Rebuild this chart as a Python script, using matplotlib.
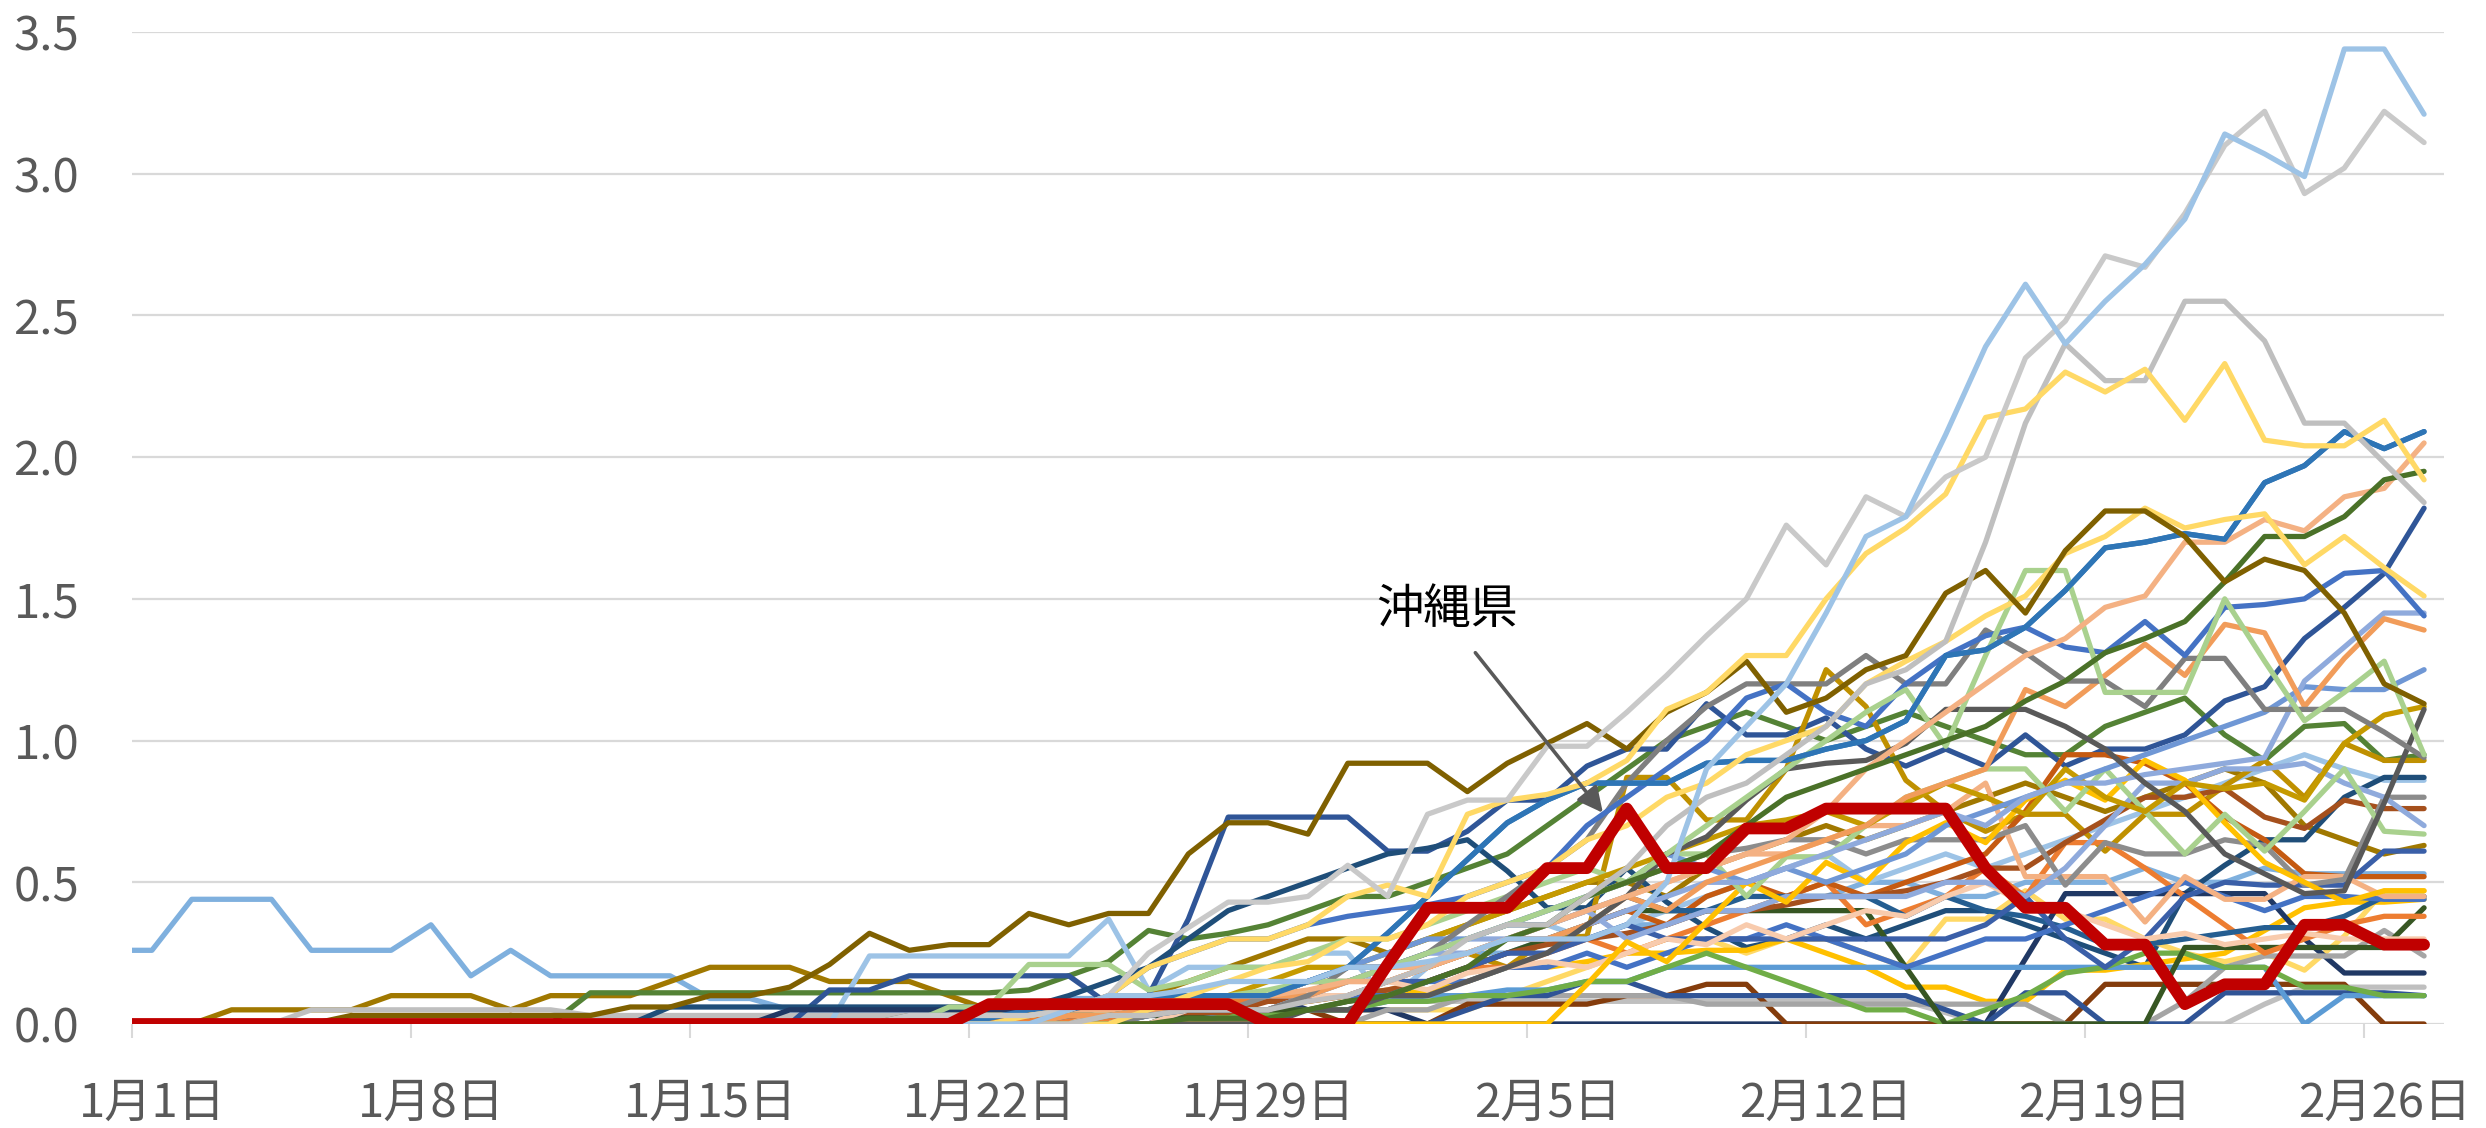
import matplotlib
matplotlib.use("Agg")
import matplotlib.pyplot as plt
import numpy as np

plt.rcParams['font.family'] = ['Noto Sans CJK JP', 'DejaVu Sans']

# day index: -1 = 12/31, 0 = 1/1 ... 57 = 2/27
days = list(range(-1, 58))
tick_days = [0, 7, 14, 21, 28, 35, 42, 49, 56]
tick_labels = ['1月1日', '1月8日', '1月15日', '1月22日', '1月29日',
               '2月5日', '2月12日', '2月19日', '2月26日']

# one list per prefecture line (59 points each)
okinawa = [0, 0, 0, 0, 0, 0, 0, 0, 0, 0, 0, 0, 0, 0, 0, 0, 0, 0, 0, 0, 0, 0,
           .07, .07, .07, .07, .07, .07, .07, 0, 0, 0, .21, .41, .41, .41,
           .55, .55, .76, .55, .55, .69, .69, .76, .76, .76, .76, .55, .41, .41,
           .28, .28, .07, .14, .14, .35, .35, .28, .28]
lb_top = [0, 0, 0, 0, 0, 0, 0, 0, 0, 0, 0, 0, 0, 0, 0, 0, 0, 0, 0, 0, 0, 0,
          0, 0, .05, .1, .1, .12, .15, .15, .15, .2, .2, .22, .25, .3,
          .3, .3, .35, .5, .9, 1.05, 1.2, 1.45, 1.72, 1.79, 2.08, 2.39, 2.61, 2.40,
          2.55, 2.68, 2.84, 3.14, 3.07, 2.99, 3.44, 3.44, 3.21]
lg1 = [0, 0, 0, 0, 0, 0, 0, 0, 0, 0, 0, 0, 0, 0, 0, 0, 0, 0, 0, 0, .03, .03,
       .03, .03, .05, .1, .25, .34, .43, .43, .45, .56, .45, .74, .79, .79,
       .98, .98, 1.10, 1.23, 1.37, 1.50, 1.76, 1.62, 1.86, 1.79, 1.93, 2.00, 2.35, 2.48,
       2.71, 2.67, 2.86, 3.10, 3.22, 2.93, 3.02, 3.22, 3.11]
lg2 = [0, 0, 0, 0, 0, 0, 0, 0, 0, 0, 0, 0, 0, 0, 0, 0, 0, 0, 0, 0, 0, 0,
       0, 0, 0, .03, .03, .05, .05, .05, .08, .1, .15, .2, .3, .35,
       .35, .45, .55, .7, .8, .85, .95, 1.05, 1.2, 1.25, 1.35, 1.70, 2.12, 2.40,
       2.27, 2.27, 2.55, 2.55, 2.41, 2.12, 2.12, 1.98, 1.84]
ye1 = [0, 0, 0, 0, 0, 0, 0, 0, 0, 0, 0, 0, 0, 0, 0, 0, 0, 0, 0, 0, 0, 0,
       0, .03, .05, .1, .2, .25, .3, .3, .35, .45, .49, .45, .74, .79,
       .81, .85, .93, 1.11, 1.17, 1.30, 1.30, 1.50, 1.66, 1.75, 1.87, 2.14, 2.17, 2.30,
       2.23, 2.31, 2.13, 2.33, 2.06, 2.04, 2.04, 2.13, 1.92]
ye2 = [0, 0, 0, 0, 0, 0, 0, 0, 0, 0, 0, 0, 0, 0, 0, 0, 0, 0, 0, 0, 0, 0,
       0, 0, 0, 0, .05, .1, .15, .2, .22, .3, .3, .35, .45, .5,
       .55, .65, .7, .8, .85, .95, 1.0, 1.05, 1.2, 1.28, 1.35, 1.44, 1.51, 1.66,
       1.72, 1.82, 1.75, 1.78, 1.80, 1.62, 1.72, 1.61, 1.51]
blue_mid = [0, 0, 0, 0, 0, 0, 0, 0, 0, 0, 0, 0, 0, 0, 0, 0, 0, 0, 0, 0, .02, .02,
            .02, .05, .05, .08, .1, .1, .1, .1, .15, .2, .32, .45, .58, .71,
            .79, .85, .85, .85, .92, .93, .93, .97, 1.0, 1.07, 1.30, 1.32, 1.40, 1.53,
            1.68, 1.70, 1.73, 1.71, 1.91, 1.97, 2.09, 2.03, 2.09]
dgreen = [0, 0, 0, 0, 0, 0, 0, 0, 0, 0, 0, 0, 0, 0, 0, 0, 0, 0, 0, 0, 0, 0,
          0, 0, 0, 0, 0, .02, .02, .02, .05, .08, .1, .15, .2, .3,
          .35, .45, .5, .55, .6, .7, .8, .85, .9, .95, 1.0, 1.05, 1.14, 1.21,
          1.31, 1.36, 1.42, 1.56, 1.72, 1.72, 1.79, 1.92, 1.95]
salmon = [0, 0, 0, 0, 0, 0, 0, 0, 0, 0, 0, 0, 0, 0, 0, 0, 0, 0, 0, 0, 0, .03,
          .03, .03, .05, .05, .08, .1, .1, .1, .12, .15, .15, .2, .25, .3,
          .35, .4, .45, .5, .55, .6, .65, .75, .9, 1.0, 1.1, 1.2, 1.30, 1.36,
          1.47, 1.51, 1.70, 1.70, 1.78, 1.74, 1.86, 1.89, 2.05]
olive = [0, 0, 0, 0, 0, 0, .03, .03, .03, .03, .03, .03, .03, .06, .06,
         .1, .1, .13, .21, .32, .26, .28, .28, .39, .35, .39, .39, .60, .71,
         .71, .67, .92, .92, .92, .82, .92, .99, 1.06, .97, 1.10, 1.17, 1.28, 1.10,
         1.15, 1.25, 1.30, 1.52, 1.60, 1.45, 1.67, 1.81, 1.81, 1.72, 1.56, 1.64, 1.60, 1.45,
         1.20, 1.13]
darkgold = [0, 0, 0, .05, .05, .05, .05, .10, .10, .10, .05, .10, .10, .10, .15,
            .20, .20, .20, .15, .15, .15, .10, .05, .05, .05, .1, .1, .15, .2,
            .25, .3, .3, .25, .3, .35, .4, .45, .5, .5, .45, .55, .6, .65,
            .7, .65, .7, .75, .8, .85, .8, .75, .8, .85, .9, .85, .70, .65, .60, .63]
earlyblue = [.26, .26, .44, .44, .44, .26, .26, .26, .35, .17, .26, .17, .17, .17, .17,
             .09, .09, .05, .05, .05, .05, .05, .05, .05, .09, .09, .1, .1, .1,
             .1, .15, .15, .2, .2, .25, .25, .3, .3, .35, .35, .4, .4, .45,
             .45, .5, .5, .45, .45, .5, .5, .5, .55, .5, .5, .55, .53, .53, .53, .53]
lb_jan = [0, 0, 0, 0, 0, 0, 0, 0, 0, 0, 0, 0, 0, 0, 0, 0, 0, 0, 0, .24, .24, .24,
          .24, .24, .24, .37, .12, .2, .2, .2, .25, .25, .08, .2, .25, .3,
          .35, .3, .35, .4, .45, .5, .55, .6, .5, .55, .6, .55, .6, .65,
          .7, .75, .8, .85, .9, .95, .9, .86, .86]
navy = [0, 0, 0, 0, 0, 0, 0, 0, 0, 0, 0, 0, 0, 0, 0, 0, 0, 0, .12, .12, .17, .17,
        .17, .17, .17, .07, .10, .37, .73, .73, .73, .73, .61, .61, .68, .79,
        .79, .91, .97, .97, 1.13, 1.02, 1.02, 1.08, .97, .91, .97, .91, 1.02, .91,
        .97, .97, 1.02, 1.14, 1.19, 1.36, 1.47, 1.59, 1.82]
teal = [0, 0, 0, 0, 0, 0, 0, 0, 0, 0, 0, 0, 0, 0, .06, .06, .06, .06, .06, .06, .06, .06,
        .06, .06, .1, .15, .2, .3, .4, .45, .5, .55, .6, .62, .65, .54,
        .41, .41, .55, .43, .34, .27, .3, .35, .3, .35, .4, .4, .35, .3,
        .25, .2, .46, .56, .65, .65, .80, .87, .87]
blue_a = [0, 0, 0, 0, 0, 0, 0, 0, 0, 0, 0, 0, 0, 0, 0, 0, 0, 0, 0, 0, .03, .03,
          .03, .03, .05, .1, .2, .25, .3, .3, .35, .38, .4, .42, .45, .5,
          .55, .7, .8, .9, 1.0, 1.15, 1.2, 1.1, 1.05, 1.2, 1.3, 1.37, 1.40, 1.33,
          1.31, 1.42, 1.30, 1.47, 1.48, 1.50, 1.59, 1.60, 1.44]
gray_a = [0, 0, 0, 0, 0, 0, 0, 0, 0, 0, 0, 0, 0, 0, 0, 0, 0, 0, 0, 0, 0, 0,
          0, 0, 0, 0, .03, .05, .05, .05, .1, .2, .2, .25, .35, .45,
          .55, .65, .85, 1.0, 1.12, 1.20, 1.20, 1.20, 1.30, 1.20, 1.20, 1.39, 1.31, 1.21,
          1.21, 1.12, 1.29, 1.29, 1.11, 1.11, 1.11, 1.03, .94]
dgray = [0, 0, 0, 0, 0, 0, 0, 0, 0, 0, 0, 0, 0, 0, 0, 0, 0, 0, 0, 0, 0, 0,
         0, 0, 0, 0, 0, 0, 0, 0, .05, .05, .1, .1, .15, .2,
         .25, .35, .45, .6, .66, .79, .90, .92, .93, .99, 1.11, 1.11, 1.11, 1.05,
         .97, .85, .75, .60, .53, .46, .47, .78, 1.11]
orange_a = [0, 0, 0, 0, 0, 0, 0, 0, 0, 0, 0, 0, 0, 0, 0, 0, 0, 0, 0, 0, 0, 0,
            0, 0, .03, .03, .05, .05, .1, .1, .1, .15, .15, .2, .25, .3,
            .3, .35, .45, .4, .5, .55, .6, .65, .7, .8, .85, .9, 1.18, 1.12,
            1.23, 1.34, 1.23, 1.41, 1.38, 1.12, 1.29, 1.43, 1.39]
lpurple = [0, 0, 0, 0, 0, 0, 0, 0, 0, 0, 0, 0, 0, 0, 0, 0, 0, 0, 0, 0, 0, 0,
           0, 0, 0, .03, .05, .1, .1, .1, .1, .15, .2, .25, .25, .3,
           .3, .35, .4, .45, .5, .5, .55, .6, .65, .7, .75, .7, .8, .85,
           .85, .88, .9, .92, .94, 1.21, 1.33, 1.45, 1.45]
medblue = [0, 0, 0, 0, 0, 0, 0, 0, 0, 0, 0, 0, 0, 0, 0, 0, 0, 0, 0, 0, 0, 0,
           0, 0, 0, 0, .03, .05, .1, .1, .15, .2, .25, .3, .3, .35,
           .4, .45, .5, .6, .55, .5, .55, .5, .55, .6, .7, .75, .8, .85,
           .9, .95, 1.0, 1.05, 1.1, 1.19, 1.18, 1.18, 1.25]
lgreen1 = [0, 0, 0, 0, 0, 0, 0, 0, 0, 0, 0, 0, 0, 0, 0, 0, 0, 0, 0, 0, 0, .03,
           .03, .03, .05, .05, .1, .1, .1, .12, .15, .15, .2, .25, .3, .35,
           .4, .45, .5, .6, .7, .8, .9, 1.0, 1.1, 1.18, .98, 1.30, 1.60, 1.60,
           1.17, 1.17, 1.17, 1.50, 1.28, 1.07, 1.17, 1.28, .95]
lgreen2 = [0, 0, 0, 0, 0, 0, 0, 0, 0, 0, 0, 0, 0, 0, 0, 0, 0, 0, 0, 0, 0, .06,
           .06, .21, .21, .21, .12, .15, .2, .2, .25, .3, .3, .35, .4, .45,
           .5, .55, .5, .6, .6, .45, .59, .59, .7, .8, .85, .90, .90, .75,
           .90, .75, .60, .74, .61, .75, .90, .68, .67]
gold_a = [0, 0, 0, 0, 0, 0, 0, 0, 0, 0, 0, 0, 0, 0, 0, 0, 0, 0, 0, 0, 0, 0,
          0, 0, 0, 0, .05, .05, .1, .1, .15, .15, .2, .2, .25, .2,
          .3, .31, .87, .87, .72, .72, .9, 1.25, 1.12, .86, .75, .68, .74, .74,
          .61, .74, .74, .84, .93, .80, .99, .93, .93]
gold_b = [0, 0, 0, 0, 0, 0, 0, 0, 0, 0, 0, 0, 0, 0, 0, 0, 0, 0, 0, 0, 0, 0,
          0, 0, 0, .03, .05, .08, .1, .15, .2, .2, .25, .3, .35, .4,
          .45, .5, .55, .6, .65, .7, .72, .75, .7, .78, .85, .8, .74, .9,
          .8, .75, .85, .83, .85, .79, .99, 1.09, 1.12]
brown_a = [0, 0, 0, 0, 0, 0, 0, 0, 0, 0, 0, 0, 0, 0, 0, 0, 0, 0, 0, 0, 0, 0,
           0, .04, .04, .04, .04, .04, .04, .08, .08, .1, .12, .15, .2, .25,
           .28, .3, .32, .35, .4, .4, .42, .45, .45, .47, .50, .55, .55, .64,
           .72, .80, .80, .83, .73, .69, .79, .76, .76]
orange_dk = [0, 0, 0, 0, 0, 0, 0, 0, 0, 0, 0, 0, 0, 0, 0, 0, 0, 0, 0, 0, 0, 0,
             0, 0, 0, .03, .03, .05, .05, .05, .1, .1, .15, .2, .25, .3,
             .3, .35, .4, .35, .45, .5, .45, .5, .45, .5, .55, .6, .75, .95,
             .95, .92, .85, .73, .65, .53, .52, .52, .52]
orange_b = [0, 0, 0, 0, 0, 0, 0, 0, 0, 0, 0, 0, 0, 0, 0, 0, 0, 0, 0, 0, 0, .02,
            .02, .02, .02, .02, .05, .05, .08, .08, .1, .1, .12, .15, .2, .2,
            .25, .3, .25, .3, .35, .4, .45, .5, .35, .4, .45, .55, .45, .64,
            .64, .55, .45, .35, .25, .30, .35, .38, .38]
ygold = [0, 0, 0, 0, 0, 0, 0, 0, 0, 0, 0, 0, 0, 0, 0, 0, 0, 0, 0, 0, .03, .03,
         .03, .03, .05, .05, .05, .05, .05, .05, .08, .1, .1, .12, .15, .2,
         .2, .22, .25, .25, .26, .26, .30, .25, .2, .13, .13, .08, .08, .19,
         .19, .21, .23, .25, .33, .41, .43, .43, .44]
lyellow = [0, 0, 0, 0, 0, 0, 0, 0, 0, 0, 0, 0, 0, 0, 0, 0, 0, 0, 0, 0, 0, 0,
           .03, .03, .03, .05, .05, .05, .05, .05, .05, .05, .05, .05, .05, .1,
           .15, .2, .25, .3, .3, .25, .3, .3, .25, .2, .37, .37, .47, .37,
           .37, .30, .25, .22, .25, .19, .31, .47, .47]
dgreen2 = [0, 0, 0, 0, 0, 0, 0, 0, 0, 0, 0, 0, 0, 0, 0, 0, 0, 0, 0, 0, 0, 0,
           0, 0, 0, 0, .03, .03, .05, .05, .05, .08, .1, .15, .2, .25,
           .3, .35, .4, .4, .40, .40, .40, .40, .40, .2, 0, 0, 0, 0,
           0, 0, .27, .27, .27, .27, .27, .27, .41]
navy_dk = [0, 0, 0, 0, 0, 0, 0, 0, 0, 0, 0, 0, 0, 0, 0, 0, 0, .05, .05, .05, .05, .05,
           .05, .05, .05, .05, .1, .1, .1, .1, .05, .05, .05, 0, 0, 0,
           0, 0, 0, 0, 0, 0, 0, 0, 0, 0, 0, 0, .23, .46,
           .46, .46, .46, .46, .46, .30, .18, .18, .18]
lgray_low = [0, 0, 0, 0, 0, .05, .05, .05, .05, .05, .05, .05, .03, .03, .03,
             .03, .03, .03, .03, .03, .03, .03, .05, .05, .05, .05, .05, .1, .1,
             .1, .1, .1, .08, .08, .08, .08, .08, .08, .08, .08, .08, .08, .08,
             .08, .08, .08, .04, 0, 0, 0, 0, 0, 0, 0, .07, .13, .13, .13, .13]
gray_b = [0, 0, 0, 0, 0, 0, 0, 0, 0, 0, 0, 0, 0, 0, 0, 0, 0, 0, 0, 0, 0, 0,
          0, 0, 0, 0, 0, 0, 0, 0, 0, 0, .05, .05, .1, .1,
          .1, .1, .1, .1, .07, .07, .07, .07, .07, .07, .07, .07, .07, 0,
          0, 0, .08, .2, .24, .24, .24, .33, .24]
navy_b = [0, 0, 0, 0, 0, 0, 0, 0, 0, 0, 0, 0, 0, 0, 0, 0, 0, 0, 0, 0, 0, 0,
          0, 0, 0, 0, 0, 0, 0, 0, 0, 0, 0, 0, .05, .1,
          .1, .15, .15, .1, .1, .1, .1, .1, .1, .1, .05, 0, .11, .11,
          0, 0, 0, .11, .11, .11, .11, .11, .10]
brown_b = [0, 0, 0, 0, 0, 0, 0, 0, 0, 0, 0, 0, 0, 0, 0, 0, 0, 0, 0, 0, 0, 0,
           0, 0, 0, 0, 0, .05, .05, .05, .05, 0, 0, 0, .07, .07,
           .07, .07, .1, .1, .14, .14, 0, 0, 0, 0, 0, 0, 0, 0,
           .14, .14, .14, .14, .14, .14, .14, 0, 0]
blue_lt = [0, 0, 0, 0, 0, 0, 0, 0, 0, 0, 0, 0, 0, 0, 0, 0, 0, 0, 0, 0, 0, 0,
           0, 0, 0, 0, 0, .03, .03, .05, .05, .05, .08, .1, .1, .12,
           .12, .15, .15, .2, .2, .2, .2, .2, .2, .2, .2, .2, .2, .2,
           .2, .2, .2, .2, .2, 0, .1, .1, .1]
green_a = [0, 0, 0, 0, 0, 0, 0, 0, 0, 0, 0, 0, 0, 0, 0, 0, 0, 0, 0, 0, 0, 0,
           0, 0, 0, 0, 0, 0, .03, .03, .05, .05, .08, .08, .1, .1,
           .12, .15, .15, .2, .25, .2, .15, .1, .05, .05, 0, .05, .1, .18,
           .2, .25, .25, .2, .2, .13, .13, .1, .1]
green_b = [0, 0, 0, 0, 0, 0, 0, 0, 0, 0, 0, 0, .11, .11, .11,
           .11, .11, .11, .11, .11, .11, .11, .11, .12, .17, .22, .33, .30, .32,
           .35, .4, .45, .45, .5, .55, .6, .7, .8, .9, 1.0, 1.05, 1.1, 1.05,
           1.0, 1.05, 1.1, 1.05, 1.0, .95, .95, 1.05, 1.1, 1.15, 1.02, .93, 1.05, 1.06,
           .93, .95]
peach = [0, 0, 0, 0, 0, 0, 0, 0, 0, 0, 0, 0, 0, 0, 0, 0, 0, 0, 0, 0, 0, 0,
         0, 0, 0, .05, .05, .1, .1, .1, .15, .15, .2, .2, .25, .3,
         .35, .4, .45, .5, .55, .6, .6, .65, .7, .7, .75, .85, .52, .52,
         .52, .36, .52, .44, .44, .52, .52, .45, .45]
gray_c = [0, 0, 0, 0, 0, 0, 0, 0, 0, 0, 0, 0, 0, 0, 0, 0, 0, 0, 0, 0, 0, 0,
          0, 0, .03, .03, .05, .05, .05, .1, .1, .15, .2, .25, .3, .35,
          .4, .45, .5, .55, .6, .62, .65, .65, .6, .65, .65, .65, .70, .49,
          .64, .6, .6, .65, .63, .49, .51, .80, .80]
lpurple2 = [0, 0, 0, 0, 0, 0, 0, 0, 0, 0, 0, 0, 0, 0, 0, 0, 0, 0, 0, 0, 0, 0,
            0, 0, 0, 0, .05, .1, .1, .1, .15, .2, .2, .25, .3, .3,
            .35, .4, .3, .35, .4, .4, .45, .45, .45, .45, .5, .5, .45, .55,
            .7, .85, .85, .9, .9, .92, .85, .80, .70]
blue_b = [0, 0, 0, 0, 0, 0, 0, 0, 0, 0, 0, 0, 0, 0, 0, 0, 0, 0, 0, 0, 0, 0,
          0, 0, 0, 0, 0, .05, .05, .05, .1, .1, .15, .15, .2, .25,
          .25, .3, .35, .3, .3, .3, .3, .3, .3, .3, .3, .35, .45, .3,
          .2, .3, .45, .5, .49, .49, .49, .61, .61]
teal2 = [0, 0, 0, 0, 0, 0, 0, 0, 0, 0, 0, 0, 0, 0, 0, 0, 0, 0, 0, 0, 0, 0,
         0, 0, .03, .03, .05, .05, .1, .1, .15, .2, .2, .25, .3, .35,
         .35, .4, .45, .4, .4, .45, .45, .45, .45, .38, .45, .40, .38, .34,
         .28, .28, .30, .32, .34, .34, .38, .45, .45]
blue_c = [0, 0, 0, 0, 0, 0, 0, 0, 0, 0, 0, 0, 0, 0, 0, 0, 0, 0, 0, 0, 0, 0,
          0, 0, 0, 0, .03, .05, .05, .05, .1, .1, .1, .15, .15, .2,
          .2, .25, .2, .25, .3, .3, .35, .3, .25, .2, .25, .3, .3, .35,
          .4, .45, .5, .45, .4, .45, .45, .44, .44]
ygold2 = [0, 0, 0, 0, 0, 0, 0, 0, 0, 0, 0, 0, 0, 0, 0, 0, 0, 0, 0, 0, 0, 0,
          0, 0, 0, 0, 0, 0, 0, 0, 0, 0, 0, 0, 0, 0,
          0, .14, .29, .22, .36, .5, .43, .57, .5, .64, .71, .64, .79, .86,
          .79, .93, .86, .71, .57, .5, .43, .47, .47]
lorange = [0, 0, 0, 0, 0, 0, 0, 0, 0, 0, 0, 0, 0, 0, 0, 0, 0, 0, 0, 0, 0, 0,
           0, 0, 0, 0, 0, .05, .05, .05, .1, .1, .15, .12, .18, .2,
           .22, .2, .25, .3, .28, .35, .3, .35, .4, .38, .45, .5, .42, .4,
           .35, .3, .32, .28, .3, .32, .3, .3, .3]

series = [
    (earlyblue, '#7FB0DE'), (darkgold, '#A07800'), (green_b, '#548235'),
    (lgray_low, '#BFBFBF'), (lb_jan, '#9DC3E6'), (navy, '#2F5597'),
    (teal, '#1F4E79'), (blue_mid, '#2E75B6'), (gold_a, '#BF9000'),
    (lyellow, '#FFD966'), (ygold, '#FFC000'), (navy_dk, '#203864'),
    (brown_b, '#843C0C'), (gray_b, '#A5A5A5'), (navy_b, '#305496'),
    (blue_lt, '#5B9BD5'), (green_a, '#70AD47'), (dgreen2, '#375623'),
    (orange_b, '#ED7D31'), (orange_dk, '#C55A11'), (brown_a, '#A5501D'),
    (teal2, '#255E91'), (blue_c, '#4472C4'), (blue_b, '#3A5FA8'),
    (lorange, '#F8CBAD'), (peach, '#F4B183'), (gray_c, '#8C8C8C'),
    (lpurple2, '#8FAADC'), (ygold2, '#FFC000'), (lgreen2, '#A9D18E'),
    (gold_b, '#C59A00'), (medblue, '#6F97D5'), (lpurple, '#8FAADC'),
    (orange_a, '#F19C5A'), (dgray, '#595959'), (gray_a, '#7F7F7F'),
    (blue_a, '#4472C4'), (lgreen1, '#A9D18E'), (salmon, '#F4B183'),
    (dgreen, '#4A7128'), (blue_mid, '#2E75B6'), (ye2, '#FFD966'),
    (olive, '#7F6000'), (lg2, '#BFBFBF'), (ye1, '#FFD966'),
    (lg1, '#C9C9C9'), (lb_top, '#9DC3E6'),
]

fig = plt.figure(figsize=(24.86, 11.28), dpi=100)
ax = fig.add_axes([132 / 2486, 104 / 1128, 2312 / 2486, 992 / 1128])

for vals, col in series:
    ax.plot(days, vals, color=col, lw=3.8, solid_joinstyle='round',
            solid_capstyle='round')
ax.plot(days, okinawa, color='#C00000', lw=8.5, solid_joinstyle='round',
        solid_capstyle='round', zorder=5)

ax.set_xlim(-0.5, 57.5)
ax.set_ylim(0, 3.5)
ax.set_yticks(np.arange(0, 3.51, 0.5))
ax.set_yticklabels([f'{v:.1f}' for v in np.arange(0, 3.51, 0.5)])
ax.grid(axis='y', color='#D9D9D9', lw=1.6, zorder=0)
ax.set_axisbelow(True)
for s in ax.spines.values():
    s.set_visible(False)

ax.set_xticks(tick_days)
ax.set_xticklabels(tick_labels)
ax.set_xticks([d - 0.5 for d in tick_days], minor=True)
ax.tick_params(axis='x', which='major', length=0, pad=40, labelsize=34,
               labelcolor='#595959')
ax.tick_params(axis='x', which='minor', length=10, width=1.5, color='#D9D9D9')
ax.tick_params(axis='y', length=0, pad=38, labelsize=34, labelcolor='#595959')

ax.annotate('', xy=(36.4, 0.745), xytext=(33.2, 1.31),
            arrowprops=dict(arrowstyle='-|>', color='#595959', lw=2.6,
                            mutation_scale=38, shrinkA=0, shrinkB=0), zorder=6)
ax.text(32.5, 1.46, '沖縄県', fontsize=34, ha='center', va='center', color='black')

fig.savefig('out.png', dpi=100)
